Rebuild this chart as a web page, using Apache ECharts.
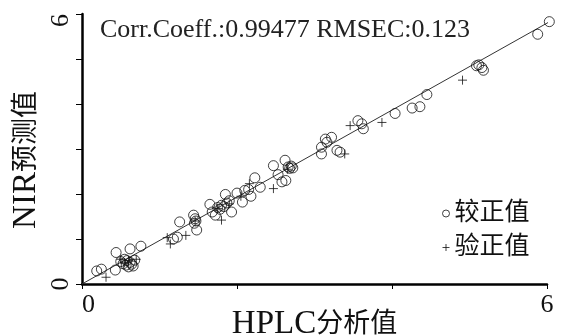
<!DOCTYPE html>
<html>
<head>
<meta charset="utf-8">
<script src="https://cdn.jsdelivr.net/npm/echarts@6/dist/echarts.min.js"></script>
<style>
html,body{margin:0;padding:0;background:#fff;}
#c{width:563px;height:335px;}
</style>
</head>
<body>
<div id="c"></div>
<script>
// ---- data ----
const calibration = [
  [0.19,0.29],[0.25,0.33],[0.43,0.31],[0.44,0.70],[0.50,0.50],[0.53,0.45],[0.55,0.55],[0.57,0.42],
  [0.60,0.38],[0.62,0.48],[0.58,0.52],[0.64,0.44],[0.62,0.78],[0.68,0.53],[0.76,0.84],[0.66,0.40],
  [1.18,1.00],[1.23,1.04],[1.26,1.38],[1.44,1.53],[1.46,1.45],[1.47,1.40],[1.45,1.35],[1.48,1.20],
  [1.65,1.77],[1.68,1.60],[1.72,1.53],[1.75,1.70],[1.78,1.66],[1.80,1.75],[1.83,1.72],[1.85,1.99],
  [1.87,1.80],[1.90,1.85],[1.93,1.60],[2.00,2.02],[2.07,1.82],[2.10,2.08],[2.15,2.10],[2.18,1.95],
  [2.23,2.36],[2.30,2.15],
  [2.47,2.63],[2.53,2.43],[2.58,2.27],[2.63,2.30],[2.62,2.75],[2.66,2.60],[2.68,2.57],[2.70,2.62],[2.72,2.58],
  [3.09,2.89],[3.09,3.04],[3.14,3.22],[3.22,3.26],[3.16,3.15],[3.29,2.97],[3.33,2.93],
  [3.56,3.63],[3.61,3.56],[3.63,3.45],
  [4.04,3.79],[4.26,3.91],[4.36,3.94],[4.45,4.21],
  [5.09,4.85],[5.12,4.87],[5.16,4.81],[5.18,4.75],
  [5.88,5.55],[6.03,5.83]
];
const validation = [
  [0.31,0.15],[0.50,0.55],[0.55,0.47],[0.60,0.52],[0.70,0.55],
  [1.10,1.03],[1.14,0.89],[1.34,1.08],[1.46,1.40],
  [1.80,1.42],[1.75,1.68],[1.90,1.78],[2.16,2.23],[2.05,1.95],
  [2.47,2.12],[2.65,2.55],
  [3.39,2.89],[3.46,3.52],[3.87,3.59],
  [4.91,4.53]
];
const fitLine = [[0,0],[6.21,6.0]];
const xTickLabels = ['0','6'];
const yTickLabels = ['0','6'];
const statsText = 'Corr.Coeff.:0.99477 RMSEC:0.123';
const seriesNames = ['较正值','验正值'];
const xNameParts = ['HPLC','分析值'];
const yNameParts = ['NIR','预测值'];

const LATIN = "'Liberation Serif',serif";
const FONT = "'Liberation Serif','Noto Sans CJK SC',serif";
const crossPath = 'path://M0,5L10,5M5,0L5,10';

const chart = echarts.init(document.getElementById('c'), null, {renderer:'canvas'});
chart.setOption({
  animation:false,
  backgroundColor:'#fff',
  grid:{left:82,right:16,top:14,bottom:51,containLabel:false,outerBoundsMode:'none'},
  title:{
    text:statsText, left:95, top:12,
    textStyle:{fontFamily:FONT,fontSize:26,fontWeight:'normal',color:'#222'}
  },
  legend:{
    data:[
      {name:seriesNames[0],icon:'circle',itemStyle:{color:'#fff',borderColor:'#111',borderWidth:1}},
      {name:seriesNames[1],icon:crossPath,itemStyle:{color:'none',borderColor:'#111',borderWidth:1}}
    ],
    orient:'vertical', left:435, top:196, itemWidth:7, itemHeight:7, itemGap:9,
    textStyle:{fontFamily:FONT,fontSize:25,color:'#111'}
  },
  xAxis:{
    type:'value', min:0, max:6, interval:2,
    name:'{a|'+xNameParts[0]+'}{b|'+xNameParts[1]+'}', nameLocation:'middle', nameGap:24,
    nameMoveOverlap:false,
    nameTextStyle:{color:'#111',rich:{
      a:{fontFamily:LATIN,fontSize:33,color:'#111'},
      b:{fontFamily:FONT,fontSize:27,color:'#111'}}},
    axisLine:{lineStyle:{color:'#000',width:2.5}},
    axisTick:{length:5,lineStyle:{color:'#000',width:1}},
    splitLine:{show:false},
    axisLabel:{margin:8,fontFamily:FONT,fontSize:26,color:'#111',alignMinLabel:'left',
      formatter:v=> v===0?xTickLabels[0]:(v===6?xTickLabels[1]:'')}
  },
  yAxis:{
    type:'value', min:0, max:6, interval:1,
    name:'{a|'+yNameParts[0]+'}{b|'+yNameParts[1]+'}', nameLocation:'middle', nameGap:39, nameRotate:90,
    nameMoveOverlap:false,
    nameTextStyle:{color:'#111',padding:[0,22,0,0],rich:{
      a:{fontFamily:LATIN,fontSize:33,color:'#111'},
      b:{fontFamily:FONT,fontSize:27,color:'#111'}}},
    axisLine:{lineStyle:{color:'#000',width:2.5}},
    axisTick:{length:6,lineStyle:{color:'#000',width:1}},
    splitLine:{show:false},
    axisLabel:{margin:8,rotate:90,alignMaxLabel:'right',
      fontFamily:FONT,fontSize:26,color:'#111',
      formatter:v=> v===0?yTickLabels[0]:(v===6?yTickLabels[1]:'')}
  },
  series:[
    {type:'line', data:fitLine, showSymbol:false, symbol:'none', clip:false,
     lineStyle:{color:'#333',width:1}, silent:true, z:1},
    {name:seriesNames[0], type:'scatter', data:calibration, symbol:'circle', symbolSize:10, clip:false,
     itemStyle:{color:'rgba(255,255,255,0)',borderColor:'#111',borderWidth:1}, z:2},
    {name:seriesNames[1], type:'scatter', data:validation, symbol:crossPath, symbolSize:9, clip:false,
     itemStyle:{color:'none',borderColor:'#111',borderWidth:1}, z:3}
  ]
});
</script>
</body>
</html>
